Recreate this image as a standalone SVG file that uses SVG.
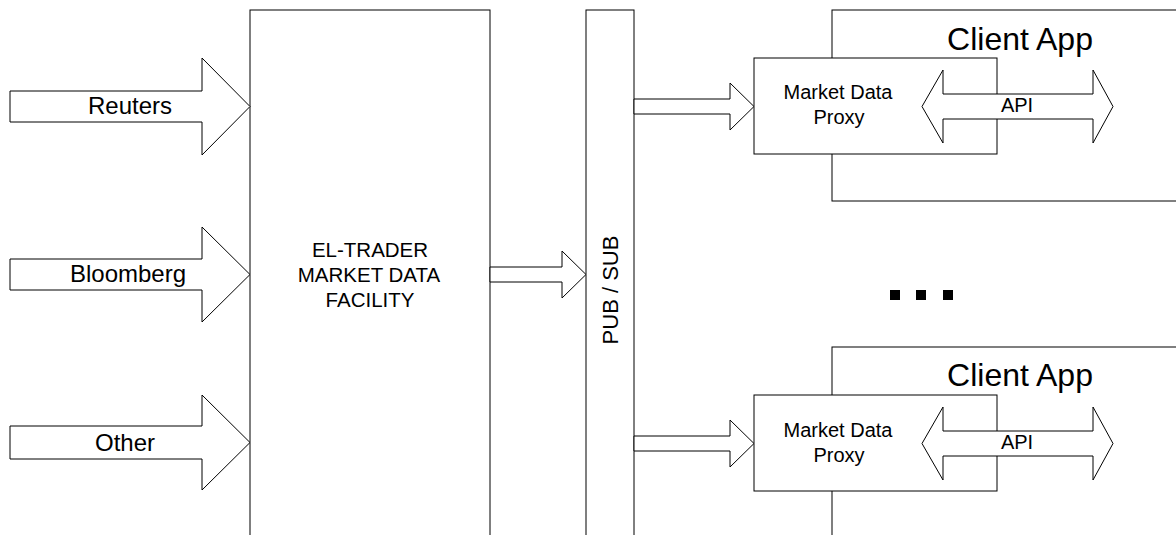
<svg xmlns="http://www.w3.org/2000/svg" width="1176" height="535" viewBox="0 0 1176 535">
<style>
.box{fill:#fff;stroke:#000;stroke-width:1}
.arr{fill:#fff;stroke:#000;stroke-width:1;stroke-linejoin:miter}
text{font-family:"Liberation Sans",Arial,sans-serif;fill:#000;text-anchor:middle}
.fac{font-size:20.5px}
.mdp{font-size:20px}
.api{font-size:20px}
.ca{font-size:32px}
.src{font-size:24px}
</style>
<rect x="0" y="0" width="1176" height="535" fill="#fff"/>
<g id="facility">
<rect class="box" x="250" y="10" width="240" height="540"/>
<text class="fac" x="370" y="257">EL-TRADER</text>
<text class="fac" x="369" y="282">MARKET DATA</text>
<text class="fac" x="370" y="307">FACILITY</text>
</g>
<g id="pubsub">
<rect class="box" x="586" y="10" width="48" height="540"/>
<text transform="translate(618,290) rotate(-90)" font-size="22">PUB / SUB</text>
</g>
<g id="client1">
<rect class="box" x="832" y="10" width="360" height="191"/>
<text class="ca" x="1020" y="50">Client App</text>
</g>
<g id="proxy1">
<rect class="box" x="754" y="58" width="243" height="96"/>
<text class="mdp" x="838" y="99">Market Data</text>
<text class="mdp" x="839" y="124">Proxy</text>
</g>
<g id="client2">
<rect class="box" x="832" y="347" width="360" height="191"/>
<text class="ca" x="1020" y="386">Client App</text>
</g>
<g id="proxy2">
<rect class="box" x="754" y="395" width="243" height="96"/>
<text class="mdp" x="838" y="437">Market Data</text>
<text class="mdp" x="839" y="462">Proxy</text>
</g>
<g id="ellipsis">
<rect x="890" y="290" width="10" height="10" fill="#000"/>
<rect x="916" y="290" width="10" height="10" fill="#000"/>
<rect x="943" y="290" width="10" height="10" fill="#000"/>
</g>
<g id="connectors">
<g id="reuters">
<polygon class="arr" points="10,91 202,91 202,58 250,106.5 202,155 202,122 10,122"/>
<text class="src" x="130" y="114">Reuters</text>
</g>
<g id="bloomberg">
<polygon class="arr" points="10,259 202,259 202,227 250,274.5 202,322 202,290 10,290"/>
<text class="src" x="128" y="282">Bloomberg</text>
</g>
<g id="other">
<polygon class="arr" points="10,426 202,426 202,395 250,442.5 202,490 202,459 10,459"/>
<text class="src" x="125" y="451">Other</text>
</g>
<polygon class="arr" points="490,267 562,267 562,251 586,274.5 562,298 562,282 490,282"/>
<polygon class="arr" points="634,99 730,99 730,83 754,106.5 730,130 730,114 634,114"/>
<polygon class="arr" points="634,436 730,436 730,420 754,443.5 730,467 730,451 634,451"/>
<g id="api1">
<polygon class="arr" points="922,106.5 943,70 943,94 1093,94 1093,70 1113,106.5 1093,143 1093,119 943,119 943,143"/>
<text class="api" x="1017" y="112">API</text>
</g>
<g id="api2">
<polygon class="arr" points="922,443.5 943,407 943,431 1093,431 1093,407 1113,443.5 1093,480 1093,456 943,456 943,480"/>
<text class="api" x="1017" y="449">API</text>
</g>
</g>
</svg>
